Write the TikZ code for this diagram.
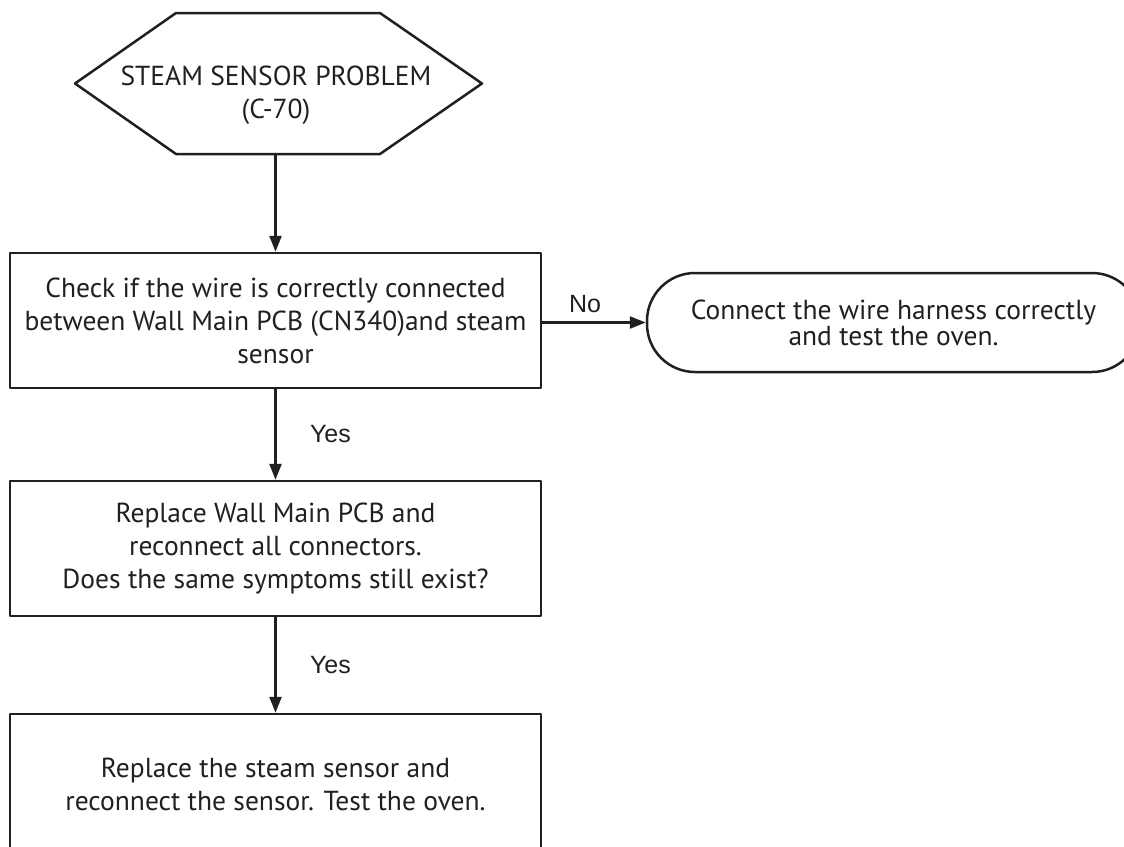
\documentclass[tikz,border=0pt]{standalone}
\usepackage{fontspec}
\setmainfont{PT Sans}
\newfontfamily\labelfont{Liberation Sans}
\usetikzlibrary{arrows.meta,positioning}
\definecolor{ink}{HTML}{231F20}

\begin{document}
\begin{tikzpicture}[x=1pt,y=-1pt,line cap=round,line join=round,
  every node/.style={text=ink,font=\fontsize{27.5}{33}\selectfont},
  stepbox/.style={draw=ink,line width=2.5pt,minimum width=531pt,minimum height=135pt,align=center,inner sep=0pt},
  endbox/.style={draw=ink,line width=2.5pt,rounded corners=48pt,minimum width=493pt,minimum height=99pt,align=center,inner sep=0pt,font=\fontsize{27.5}{24}\selectfont},
  flow/.style={draw=ink,line width=2.5pt,-{Triangle[length=16pt,width=12pt]}},
  answer/.style={font=\labelfont\fontsize{25}{25}\selectfont}]
\useasboundingbox (0,0) rectangle (1124,846);

\coordinate (H1) at (176,13);
\coordinate (H2) at (380,13);
\coordinate (H3) at (482,83.5);
\coordinate (H4) at (380,154);
\coordinate (H5) at (176,154);
\coordinate (H6) at (75,83.5);

\node[align=center,inner sep=0pt] (problem) at (276,95) {STEAM SENSOR PROBLEM\\(C-70)};
\node[stepbox] (check)    at (275.5,320.5) {Check if the wire is correctly connected\\between Wall Main PCB (CN340)and steam\\sensor};
\node[endbox]  (connect)  at (893.5,322.5) {Connect the wire harness correctly\\and test the oven.};
\node[stepbox] (replace)  at (275.5,548.5) {Replace Wall Main PCB and\\reconnect all connectors.\\Does the same symptoms still exist?};
\node[stepbox,minimum height=141pt] (sensor) at (275.5,784.5) {Replace the steam sensor and\\reconnect the sensor. Test the oven.};

% Start symbol
\draw[draw=ink,line width=2.5pt] (H1) -- (H2) -- (H3) -- (H4) -- (H5) -- (H6) -- cycle;

% Connectors
\draw[flow] (check.north |- H4) -- (check.north);
\draw[flow] (check.east |- connect.west) -- node[answer,above=5pt,xshift=-9pt] (no) {No} (connect.west);
\draw[flow] (check.south) -- node[answer,right=30pt] (yes1) {Yes} (replace.north);
\draw[flow] (replace.south) -- node[answer,right=30pt] (yes2) {Yes} (sensor.north);
\end{tikzpicture}
\end{document}
